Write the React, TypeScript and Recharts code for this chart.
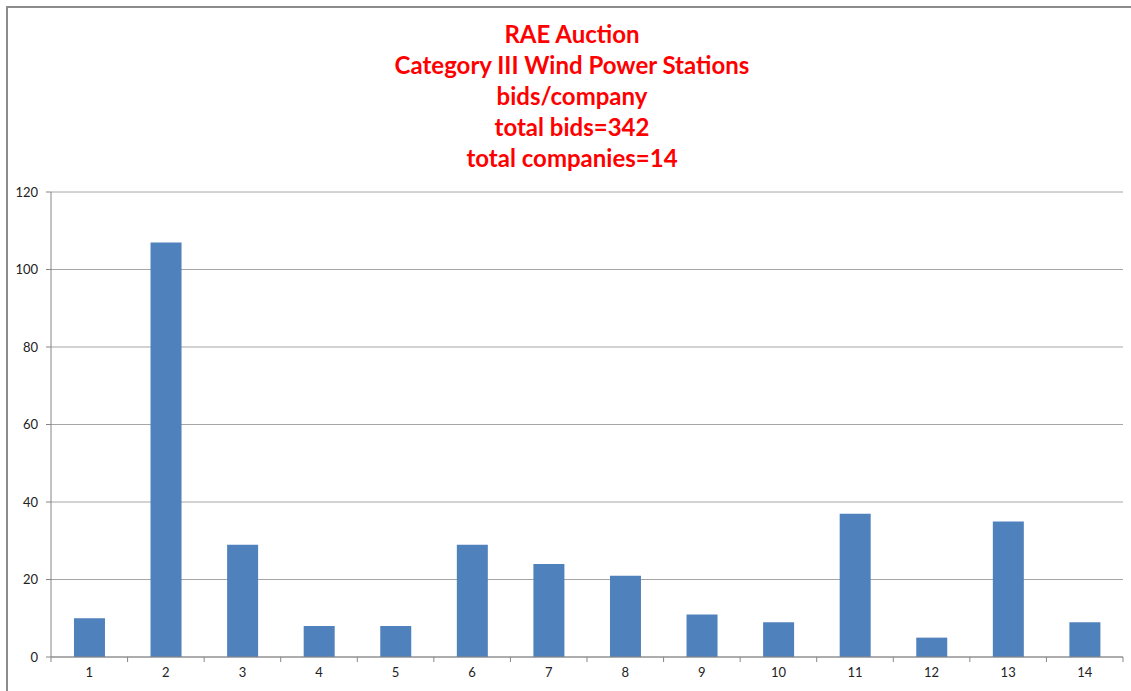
import React from 'react';
import { BarChart, Bar, XAxis, YAxis, CartesianGrid } from 'recharts';

// bids per company, company id 1..14
const companies = ['1', '2', '3', '4', '5', '6', '7', '8', '9', '10', '11', '12', '13', '14'];
const bids = [10, 107, 29, 8, 8, 29, 24, 21, 11, 9, 37, 5, 35, 9];
const yTicks = [0, 20, 40, 60, 80, 100, 120];
const titleLines = [
  'RAE Auction',
  'Category III Wind Power Stations',
  'bids/company',
  'total bids=342',
  'total companies=14',
];

const W = 1131;
const H = 691;
const PLOT_LEFT = 51;
const PLOT_RIGHT = 8;
const BAND = (W - PLOT_LEFT - PLOT_RIGHT) / companies.length;

const font = 'Lato, "Open Sans", sans-serif';

// Excel style: tick marks sit between categories, labels at the centre
const CategoryTick = ({ x, y, payload, index }: any) => {
  const left = x - BAND / 2;
  return (
    <g>
      <line x1={left} x2={left} y1={y - 8} y2={y - 3} stroke="#868686" />
      {index === companies.length - 1 && (
        <line x1={x + BAND / 2} x2={x + BAND / 2} y1={y - 8} y2={y - 3} stroke="#868686" />
      )}
      <text x={x} y={y + 12} textAnchor="middle" fontSize={13} fill="#222" fontFamily={font}>
        {payload.value}
      </text>
    </g>
  );
};

export default function App() {
  const data = companies.map((name, i) => ({ name, bids: bids[i] }));

  return (
    <div style={{ position: 'absolute', left: 0, top: 0, width: W, height: H, overflow: 'hidden', background: '#fff' }}>
      <div
        style={{
          position: 'absolute',
          left: 6,
          top: 6,
          width: 1300,
          height: 900,
          border: '2px solid #8c8c8c',
        }}
      />
      <div
        style={{
          position: 'absolute',
          left: 572 - 300,
          top: 18,
          width: 600,
          textAlign: 'center',
          color: '#ff0000',
          fontFamily: font,
          fontWeight: 'bold',
          fontSize: 24,
          lineHeight: '31px',
        }}
      >
        {titleLines.map(t => (
          <div key={t}>{t}</div>
        ))}
      </div>
      <div style={{ position: 'absolute', left: 0, top: 0 }}>
        <BarChart
          width={W}
          height={H}
          data={data}
          margin={{ top: 192, right: PLOT_RIGHT, left: 0, bottom: 4 }}
          barCategoryGap="30%"
        >
          <CartesianGrid vertical={false} stroke="#a6a6a6" />
          <XAxis
            dataKey="name"
            height={30}
            stroke="#868686"
            tickLine={false}
            tick={<CategoryTick />}
            interval={0}
          />
          <YAxis
            width={PLOT_LEFT}
            domain={[0, 120]}
            ticks={yTicks}
            stroke="#868686"
            tickSize={5}
            tickMargin={8}
            tick={{ fontSize: 13, fill: '#222', fontFamily: font }}
          />
          <Bar dataKey="bids" fill="#4f81bd" isAnimationActive={false} />
        </BarChart>
      </div>
    </div>
  );
}
